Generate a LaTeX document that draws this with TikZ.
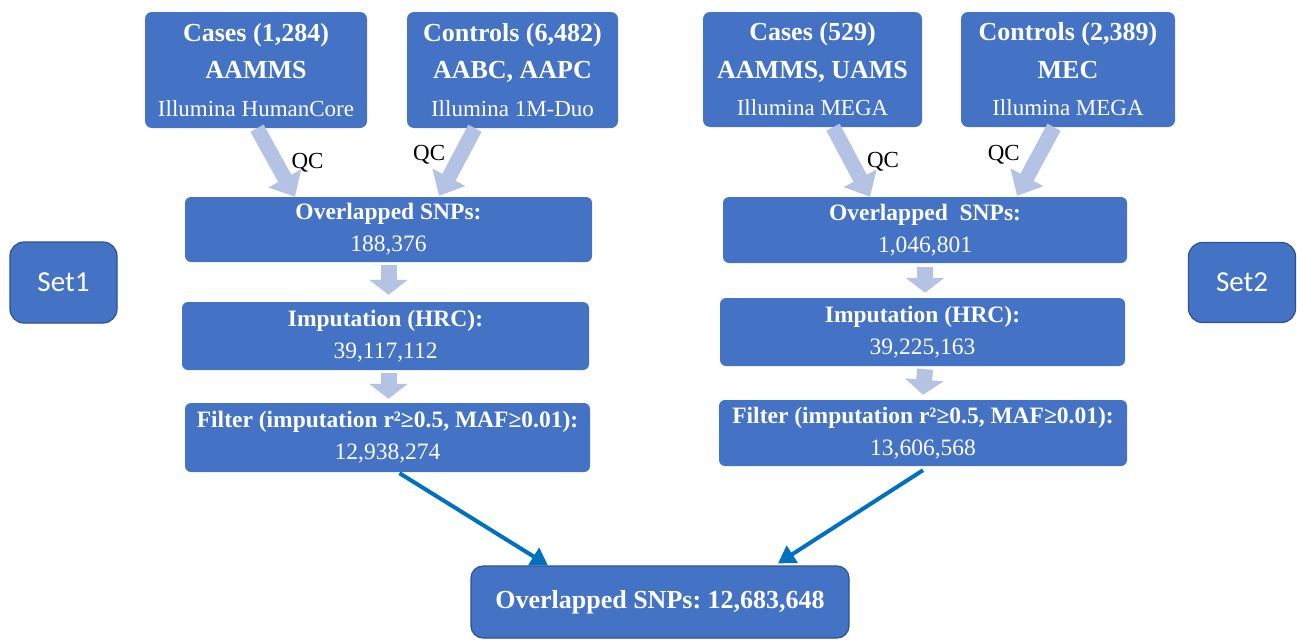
\documentclass[tikz,border=0pt]{standalone}
\usepackage{fontspec}
\setmainfont{Liberation Serif}
\newfontfamily\calibrifont{Carlito}
\usetikzlibrary{arrows.meta}
\definecolor{boxblue}{HTML}{4472C4}
\definecolor{edgeblue}{HTML}{2F528F}
\definecolor{qcgray}{HTML}{B4C3E3}
\definecolor{linkblue}{HTML}{0070C0}
\frenchspacing

\begin{document}
\begin{tikzpicture}[x=1pt,y=-1pt,
  box/.style={fill=boxblue, text=white, rounded corners=7pt, align=center, inner sep=0pt},
  setbox/.style={fill=boxblue, draw=edgeblue, line width=1.2pt, text=white, rounded corners=14pt,
    font=\calibrifont\fontsize{29}{30}\selectfont},
  qcarrow/.style={qcgray, line width=15pt, -{Triangle[length=21pt,width=36pt]}},
  steparrow/.style={qcgray, line width=16pt, -{Triangle[length=15pt,width=38pt]}},
  linkarrow/.style={linkblue, line width=4pt, -{Triangle[length=17pt,width=20pt]}},
  qclabel/.style={inner sep=0pt, text=black, font=\fontsize{23}{25}\selectfont}]
% Define the text sizes
\def\toptext{\fontsize{26}{37.5}\selectfont}
\def\platform{\fontsize{23}{37.5}\selectfont}
\def\midtext{\fontsize{23.5}{32}\selectfont}

\useasboundingbox (0,0) rectangle (1297,640);

% Genotyped samples, Set1
\node[box, minimum width=222pt, minimum height=116pt, font=\toptext] (cases1) at (256,70)
  {\textbf{Cases (1,284)}\\ \textbf{AAMMS}\\ {\platform Illumina HumanCore}};
\node[box, minimum width=211pt, minimum height=116pt, font=\toptext] (controls1) at (512.5,70)
  {\textbf{Controls (6,482)}\\ \textbf{AABC, AAPC}\\ {\platform Illumina 1M-Duo}};

% Genotyped samples, Set2
\node[box, minimum width=219pt, minimum height=115pt, font=\toptext] (cases2) at (812.5,69.5)
  {\textbf{Cases (529)}\\ \textbf{AAMMS, UAMS}\\ {\platform Illumina MEGA}};
\node[box, minimum width=214pt, minimum height=115pt, font=\toptext] (controls2) at (1068,69.5)
  {\textbf{Controls (2,389)}\\ \textbf{MEC}\\ {\platform Illumina MEGA}};

% Processing steps, Set1
\node[box, rounded corners=6pt, minimum width=407pt, minimum height=65pt, font=\midtext] (overlap1) at (388.5,229.5)
  {\textbf{Overlapped SNPs:}\\ 188,376};
\node[box, rounded corners=6pt, minimum width=407pt, minimum height=68pt, font=\midtext] (impute1) at (385.5,336)
  {\textbf{Imputation (HRC):}\\ 39,117,112};
\node[box, rounded corners=6pt, minimum width=405pt, minimum height=69pt, font=\midtext] (filter1) at (387.5,437.5)
  {\textbf{Filter (imputation r²≥0.5, MAF≥0.01):}\\ 12,938,274};

% Processing steps, Set2
\node[box, rounded corners=6pt, minimum width=404pt, minimum height=66pt, font=\midtext] (overlap2) at (925,230)
  {\textbf{Overlapped~~SNPs:}\\ 1,046,801};
\node[box, rounded corners=6pt, minimum width=405pt, minimum height=68pt, font=\midtext] (impute2) at (922.5,332)
  {\textbf{Imputation (HRC):}\\ 39,225,163};
\node[box, rounded corners=6pt, minimum width=408pt, minimum height=66pt, font=\midtext] (filter2) at (923,433)
  {\textbf{Filter (imputation r²≥0.5, MAF≥0.01):}\\ 13,606,568};

% Set labels
\node[setbox, minimum width=107pt, minimum height=81pt] (set1) at (63.5,282.5) {Set1};
\node[setbox, minimum width=107pt, minimum height=80pt] (set2) at (1242,282.5) {Set2};

% Merged result
\node[box, draw=edgeblue, line width=1.2pt, rounded corners=12pt, minimum width=378pt, minimum height=72pt,
  font=\fontsize{26}{30}\selectfont\bfseries] (final) at (660,602) {Overlapped SNPs: 12,683,648};

% QC arrows
\draw[qcarrow] ([xshift=1pt]cases1.south) -- ([xshift=-93.5pt]overlap1.north)
  node[qclabel, pos=0.5, right=8pt] {QC};
\draw[qcarrow] ([xshift=-37.5pt]controls1.south) -- ([xshift=50.5pt,yshift=1pt]overlap1.north)
  node[qclabel, pos=0.4, left=8pt] {QC};
\draw[qcarrow] ([xshift=20.5pt]cases2.south) -- ([xshift=-55pt]overlap2.north)
  node[qclabel, pos=0.5, right=8pt] {QC};
\draw[qcarrow] ([xshift=-14pt]controls2.south) -- ([xshift=92pt,yshift=1pt]overlap2.north)
  node[qclabel, pos=0.4, left=12pt] {QC};

% Step arrows
\draw[steparrow] ([yshift=-3pt]overlap1.south) -- ([xshift=3pt,yshift=7pt]impute1.north);
\draw[steparrow] ([xshift=3pt,yshift=-3pt]impute1.south) -- ([xshift=1pt,yshift=4pt]filter1.north);
\draw[steparrow] ([yshift=-4pt]overlap2.south) -- ([xshift=2.5pt,yshift=5pt]impute2.north);
\draw[steparrow] ([xshift=2.5pt,yshift=-3pt]impute2.south) -- ([yshift=5pt]filter2.north);

% Merge arrows
\draw[linkarrow] ([xshift=12pt,yshift=-1pt]filter1.south) -- ([xshift=-112pt]final.north);
\draw[linkarrow] ([yshift=-4pt]filter2.south) -- ([xshift=118pt,yshift=2pt]final.north);
\end{tikzpicture}
\end{document}
